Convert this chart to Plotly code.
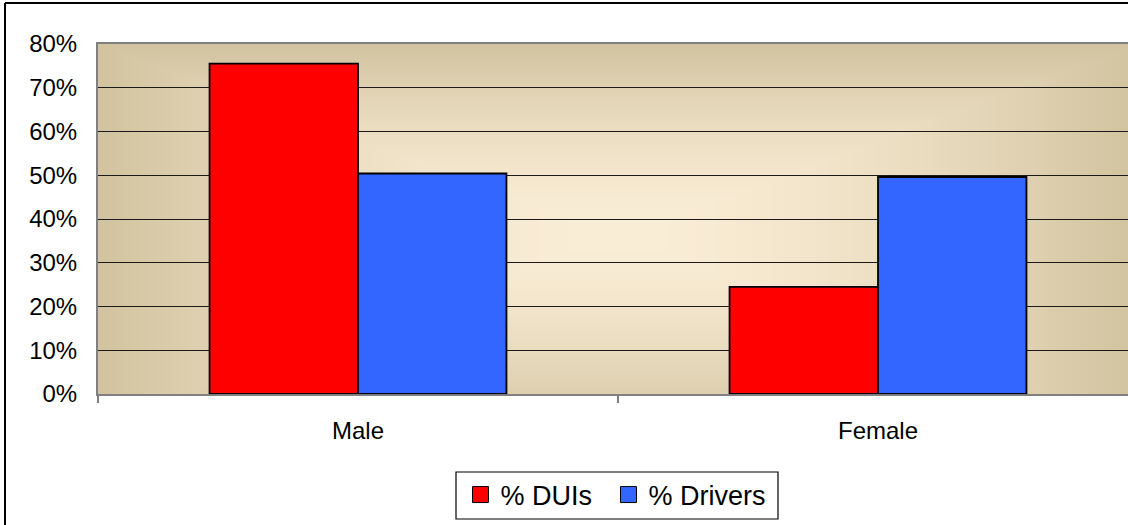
import base64, struct, zlib
import numpy as np
import plotly.graph_objects as go

categories = ["Male", "Female"]
dui_pct = [0.755, 0.245]
driver_pct = [0.504, 0.496]
series_names = ["% DUIs", "% Drivers"]
series_colors = ["#FF0000", "#3366FF"]

W, H = 1128, 525
L, T, B = 98, 44, 131
plot_w = W - L
plot_h = H - T - B


def gradient_png(w=260, h=90):
    cx, cy = 0.5, 0.55
    xs = (np.arange(w) + 0.5) / w
    ys = (np.arange(h) + 0.5) / h
    X, Y = np.meshgrid(xs, ys)
    tx = np.abs(X - cx) / 0.5
    ty = np.abs(Y - cy) / 0.55
    t = np.clip(np.maximum(tx, ty), 0, 1) ** 1.6
    c0 = np.array([251, 238, 215], float)
    c1 = np.array([210, 196, 160], float)
    img = (c0[None, None, :] * (1 - t[..., None]) + c1[None, None, :] * t[..., None]).astype(np.uint8)
    raw = b"".join(b"\x00" + img[r].tobytes() for r in range(h))

    def chunk(tag, data):
        c = tag + data
        return struct.pack(">I", len(data)) + c + struct.pack(">I", zlib.crc32(c) & 0xFFFFFFFF)

    png = b"\x89PNG\r\n\x1a\n" + chunk(b"IHDR", struct.pack(">IIBBBBB", w, h, 8, 2, 0, 0, 0)) \
        + chunk(b"IDAT", zlib.compress(raw, 9)) + chunk(b"IEND", b"")
    return "data:image/png;base64," + base64.b64encode(png).decode()


def px_x(px):
    return (px - L) / plot_w


def px_y(py):
    return (T + plot_h - py) / plot_h


font = "Liberation Sans, Arial, sans-serif"
fig = go.Figure()
for name, vals, col in zip(series_names, [dui_pct, driver_pct], series_colors):
    fig.add_trace(go.Bar(x=categories, y=vals, name=name, showlegend=False,
                         marker=dict(color=col, line=dict(color="black", width=1.8))))
# legend entries (square swatches like the original), one legend per entry
legend_ids = ["legend", "legend2"]
for name, col, lid in zip(series_names, series_colors, legend_ids):
    fig.add_trace(go.Scatter(x=[None], y=[None], mode="markers", name=name, legend=lid,
                             marker=dict(symbol="square", size=16, color=col,
                                         line=dict(color="black", width=1))))

x_right = -0.5 + plot_w / 520.0
swatch_centers = [480.5, 628.5]
legend_common = dict(orientation="h", xanchor="left", y=px_y(495), yanchor="middle",
                     borderwidth=0, bgcolor="rgba(0,0,0,0)",
                     font=dict(family=font, size=27, color="black"),
                     itemsizing="trace", itemwidth=30)

fig.update_layout(
    width=W, height=H,
    margin=dict(l=L, r=0, t=T, b=B, pad=0),
    paper_bgcolor="white",
    plot_bgcolor="rgba(0,0,0,0)",
    barmode="group", bargap=0.429, bargroupgap=0,
    font=dict(family=font, size=24, color="black"),
    showlegend=True,
    legend=dict(x=px_x(swatch_centers[0] - 20), **legend_common),
    legend2=dict(x=px_x(swatch_centers[1] - 20), **legend_common),
    xaxis=dict(type="category", range=[-0.5, x_right], showgrid=False,
               showline=True, mirror=True, linecolor="#808080", linewidth=2,
               ticks="outside", tickson="boundaries", ticklen=7, tickcolor="#808080",
               tickwidth=1.5, ticklabelstandoff=14, zeroline=False),
    yaxis=dict(range=[0, 0.8], dtick=0.1, tickformat=".0%", showgrid=True,
               gridcolor="#1a1a1a", gridwidth=1.2, showline=True, mirror=False,
               linecolor="#808080", linewidth=2, ticks="", zeroline=False,
               ticklabelstandoff=14),
    images=[dict(source=gradient_png(), xref="paper", yref="paper",
                 x=0, y=1, sizex=(1138 - L) / plot_w, sizey=1,
                 xanchor="left", yanchor="top", sizing="stretch", layer="below")],
    shapes=[
        dict(type="line", xref="paper", yref="paper",
             x0=px_x(5), x1=px_x(5), y0=px_y(3), y1=px_y(540),
             line=dict(color="black", width=2)),
        dict(type="line", xref="paper", yref="paper",
             x0=px_x(5), x1=px_x(1140), y0=px_y(3), y1=px_y(3),
             line=dict(color="black", width=2)),
        dict(type="rect", xref="paper", yref="paper",
             x0=px_x(456), x1=px_x(778), y0=px_y(519), y1=px_y(472),
             line=dict(color="black", width=1.2), fillcolor="rgba(0,0,0,0)"),
    ],
)

fig.write_html("out.html", config={"displayModeBar": False},
               post_script="document.body.style.margin='0';document.body.style.overflow='hidden';")
